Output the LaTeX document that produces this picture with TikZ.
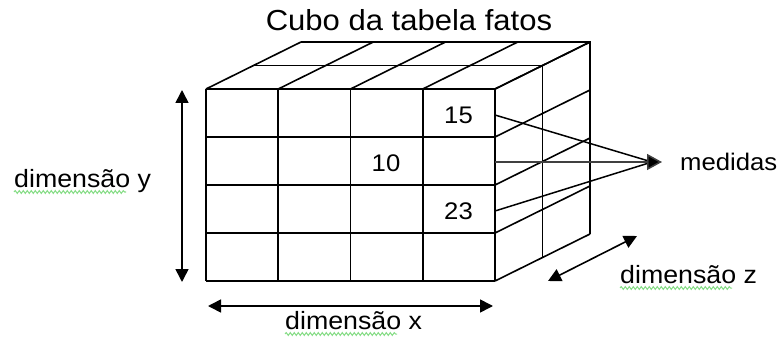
\documentclass[tikz,border=0pt]{standalone}
\usepackage{fontspec}
\setmainfont{Liberation Sans}[FakeStretch=1.07]
\usetikzlibrary{arrows.meta,positioning,calc,decorations.pathmorphing}

\tikzset{
  gridline/.style={line width=1.6pt},
  dimarrow/.style={{Triangle[length=13pt,width=13pt]}-{Triangle[length=13pt,width=13pt]},line width=1.6pt},
  measline/.style={line width=1.5pt},
  lbl/.style={inner sep=0pt,anchor=base west,font=\fontsize{25}{29}\selectfont},
  cellval/.style={inner sep=0pt,font=\fontsize{24}{28}\selectfont},
  squiggle/.style={draw=green!55!gray!60,line width=1pt,decorate,decoration={snake,amplitude=1.4pt,segment length=4pt}}
}

\begin{document}
\begin{tikzpicture}[x=1pt,y=-1pt]
    \useasboundingbox (0,0) rectangle (781,339);
    % cube: front face, top face, right face
    \foreach \i in {0,...,4} {
        \draw[gridline] (206+72.25*\i,89) -- (206+72.25*\i,281);
        \draw[gridline] (206+72.25*\i,89) -- ++(95,-47);
    }
    \foreach \j in {0,...,4} {
        \draw[gridline] (206,89+48*\j) -- (495,89+48*\j);
        \draw[gridline] (495,89+48*\j) -- ++(95,-47);
    }
    \draw[gridline] (253.5,65.5) -- (542.5,65.5) -- (542.5,257.5);
    \draw[gridline] (301,42) -- (590,42) -- (590,234);
    \coordinate (fr) at (495,0);

    % values
    \node[cellval] (v15) at (458.5,115) {15};
    \node[cellval] (v10) at (386,163) {10};
    \node[cellval] (v23) at (458.5,211) {23};

    % measures
    \coordinate (tip) at (662,162);
    \node[lbl,font=\fontsize{24}{28}\selectfont] (med) at (680,171) {medidas};
    \draw[measline] (v15 -| fr) -- ($(tip)+(-10,0)$);
    \draw[measline] (v23 -| fr) -- ($(tip)+(-10,0)$);
    \draw[measline,draw=black!75,-{Triangle[length=15pt,width=16pt,fill=black]}] (495,162) -- (tip);

    % dimensions
    \coordinate (ytop) at (182,90);
    \coordinate (ybot) at (182,282);
    \coordinate (xl) at (208,306);
    \coordinate (xr) at (493,306);
    \coordinate (zf) at (548,281);
    \coordinate (zb) at (637,236);
    \draw[dimarrow] (ytop) -- (ybot);
    \draw[dimarrow] (xl) -- (xr);
    \draw[dimarrow] (zf) -- (zb);

    \node[lbl] (dimy) at (14,187) {dimensão y};
    \node[lbl] (dimx) at (285,329) {dimensão x};
    \node[lbl] (dimz) at (620,283) {dimensão z};
    \draw[squiggle] ($(dimy.base west)+(0,5)$) -- ++(112,0);
    \draw[squiggle] ($(dimx.base west)+(0,5)$) -- ++(112,0);
    \draw[squiggle] ($(dimz.base west)+(0,5)$) -- ++(112,0);

    \node[lbl,anchor=base,font=\fontsize{29}{34}\selectfont] (title) at (409,31) {Cubo da tabela fatos};
\end{tikzpicture}
\end{document}
